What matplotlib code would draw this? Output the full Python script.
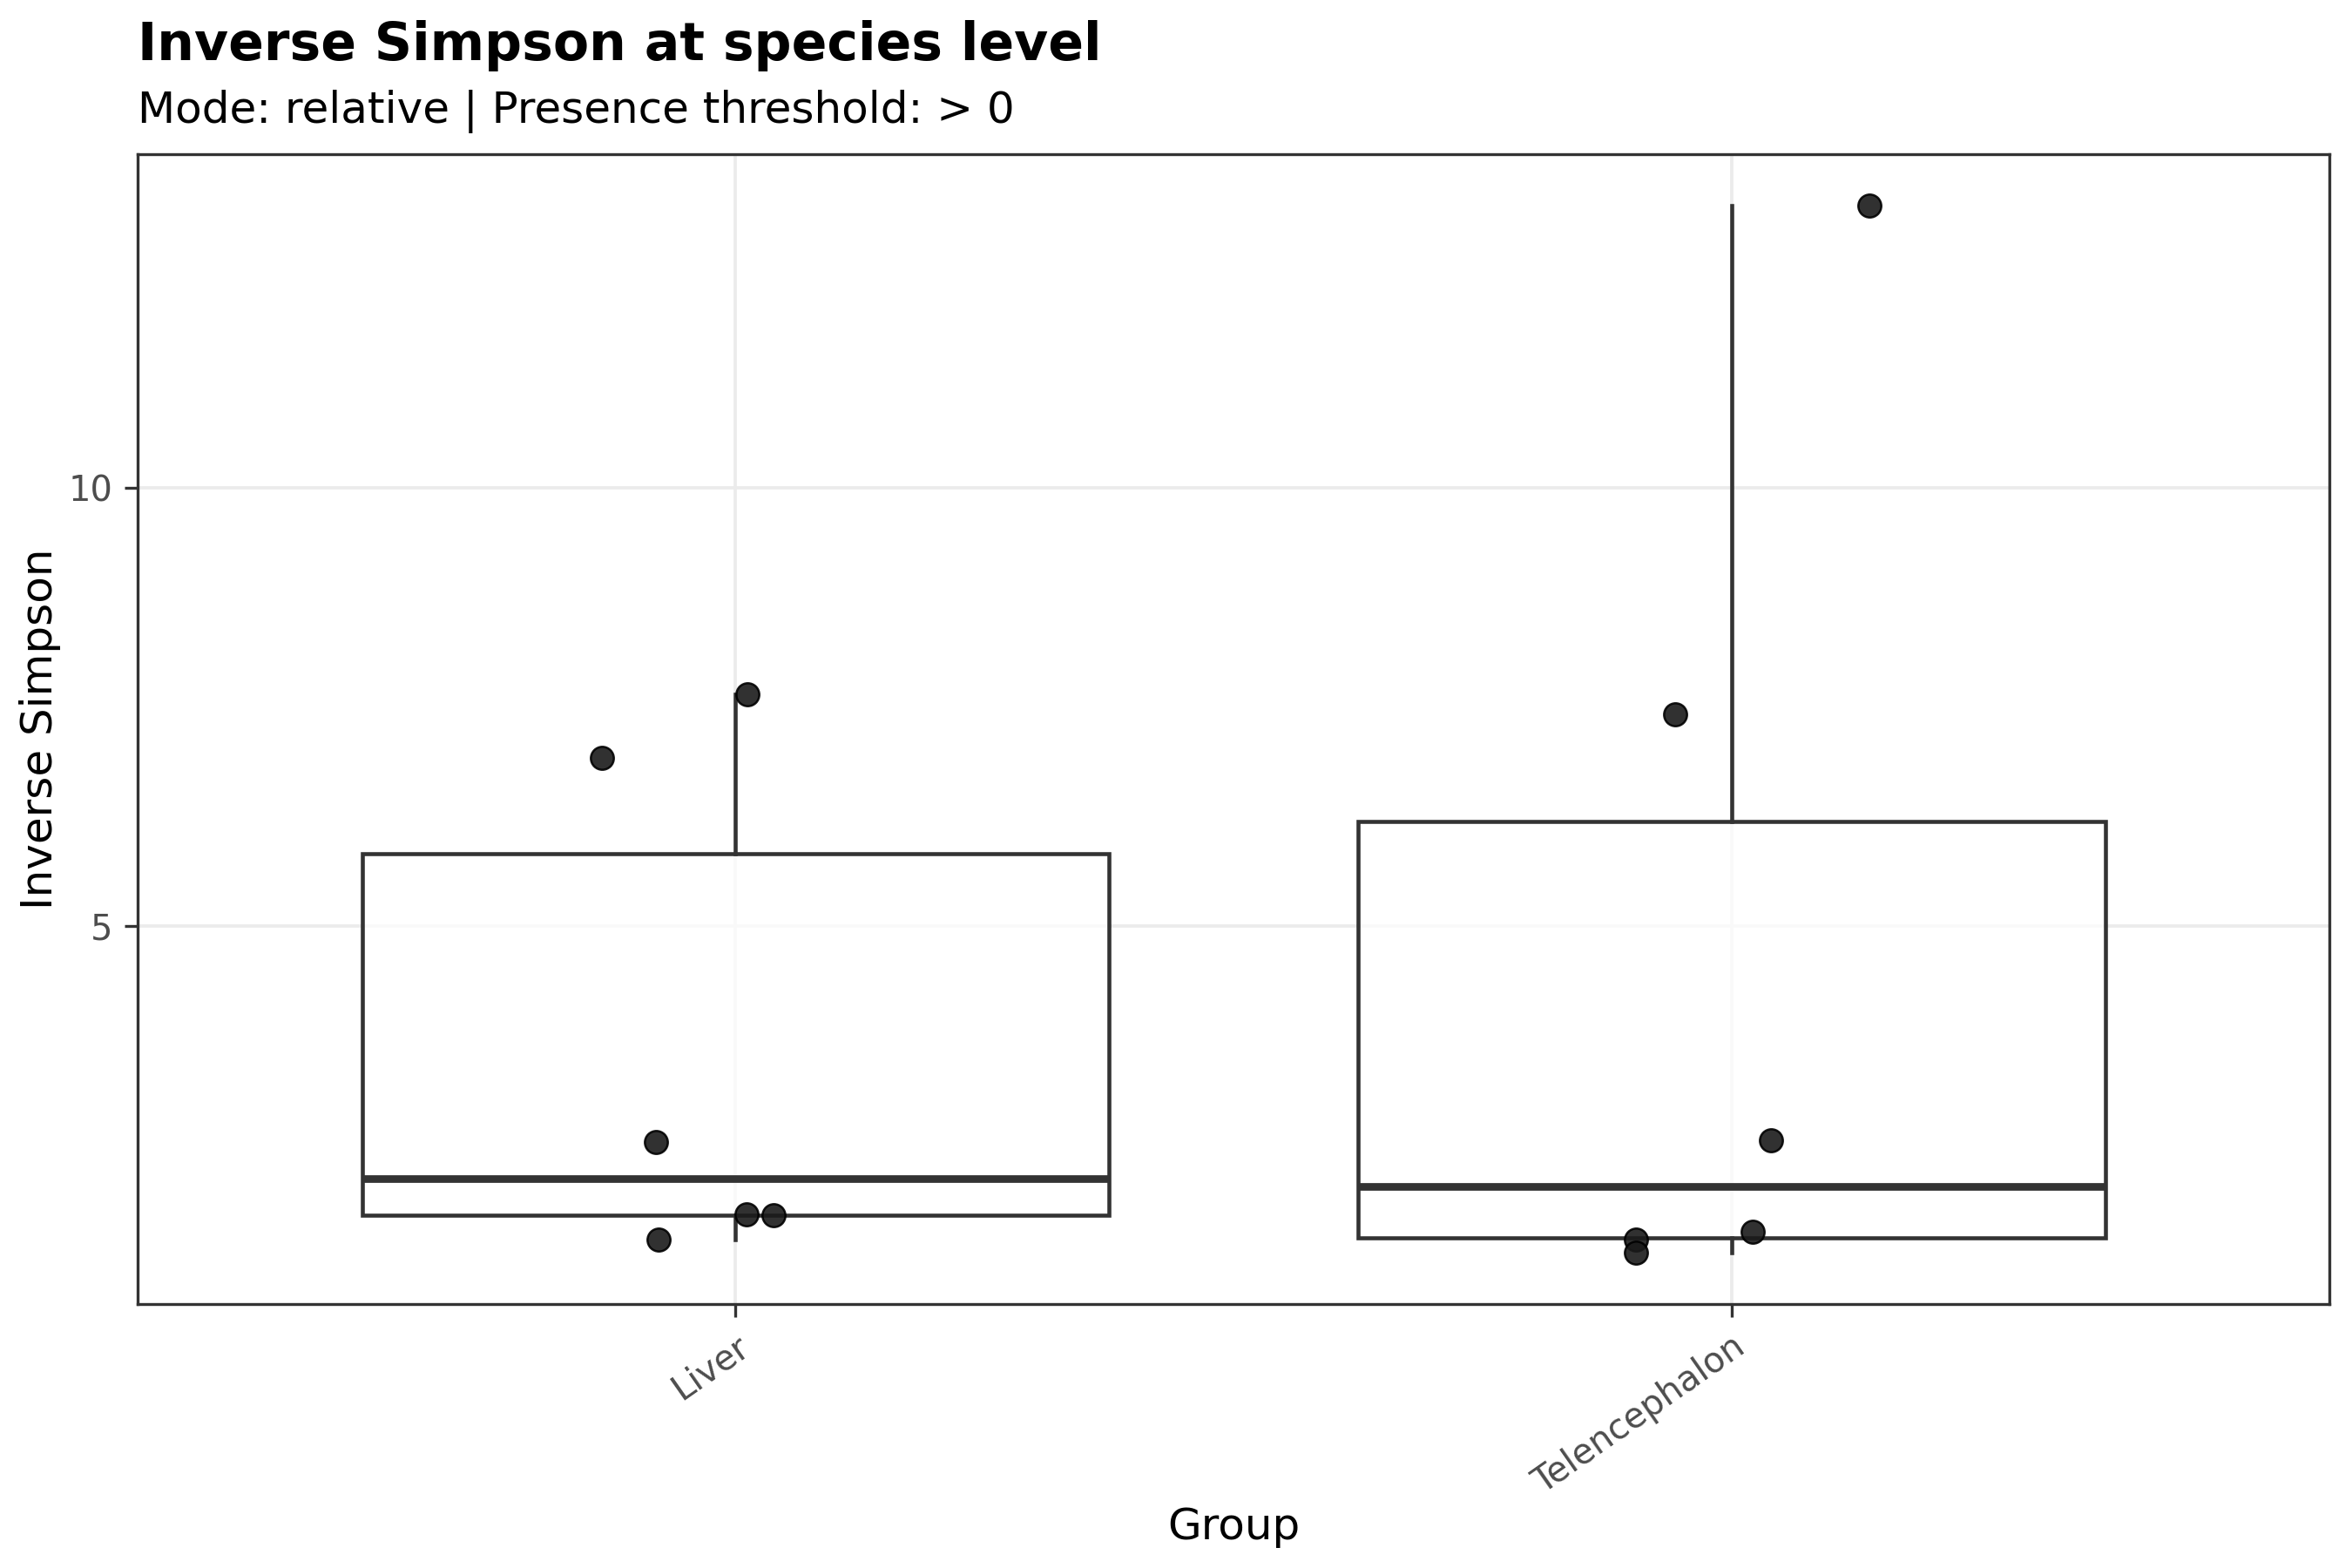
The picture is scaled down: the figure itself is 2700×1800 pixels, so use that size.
import matplotlib
matplotlib.use("Agg")
import matplotlib.pyplot as plt
import numpy as np

groups = ["Liver", "Telencephalon"]
liver_values = [6.92, 7.64, 2.53, 1.71, 1.70, 1.42]
liver_jitter = [-0.134, 0.012, -0.080, 0.011, 0.038, -0.077]
tele_values = [13.22, 7.41, 2.55, 1.51, 1.42, 1.27]
tele_jitter = [0.138, -0.057, 0.039, 0.021, -0.096, -0.096]
y_ticks = [5, 10]

plt.rcParams['font.family'] = ['DejaVu Sans']
fig = plt.figure(figsize=(9, 6), dpi=300)
ax = fig.add_axes([158.4/2700, 1 - 1497/1800, (2674-158.4)/2700, (1497-177.4)/1800])

data = [liver_values, tele_values]
jit = [liver_jitter, tele_jitter]
pos = np.arange(1, len(groups) + 1)

edge = "#333333"
bp = ax.boxplot(data, positions=pos, widths=0.75, whis=1.5, showfliers=False,
                patch_artist=True, manage_ticks=False,
                boxprops=dict(facecolor=(1, 1, 1, 0.75), edgecolor=edge, linewidth=1.1),
                medianprops=dict(color=edge, linewidth=2.1),
                whiskerprops=dict(color=edge, linewidth=1.1),
                capprops=dict(linewidth=0), zorder=2)

for p, vals, j in zip(pos, data, jit):
    ax.scatter(np.array(j) + p, vals, s=40, color="#1a1a1a", alpha=0.9,
               edgecolors="black", linewidths=0.6, zorder=3)

ax.set_xlim(0.4, 2.6)
ax.set_ylim(0.685, 13.8)
ax.set_yticks(y_ticks)
ax.set_xticks(pos)
ax.set_xticklabels(groups, rotation=35, ha="right", rotation_mode="anchor")

ax.grid(True, color="#EBEBEB", linewidth=0.9, zorder=0)
ax.set_axisbelow(True)
for s in ax.spines.values():
    s.set_color("#333333")
    s.set_linewidth(0.8)
ax.tick_params(axis="both", colors="#333333", labelcolor="#4D4D4D", labelsize=9.6,
               length=3.5, width=0.8)

ax.set_xlabel("Group", fontsize=12, color="black", labelpad=1.5)
ax.set_ylabel("Inverse Simpson", fontsize=12, color="black", labelpad=2)

fig.text(158.4/2700, 1 - 69/1800, "Inverse Simpson at species level",
         fontsize=14.4, fontweight="bold", ha="left", va="baseline")
fig.text(158.4/2700, 1 - 141/1800, "Mode: relative | Presence threshold: > 0",
         fontsize=12, ha="left", va="baseline")

fig.savefig("out.png", dpi=300, facecolor="white")
